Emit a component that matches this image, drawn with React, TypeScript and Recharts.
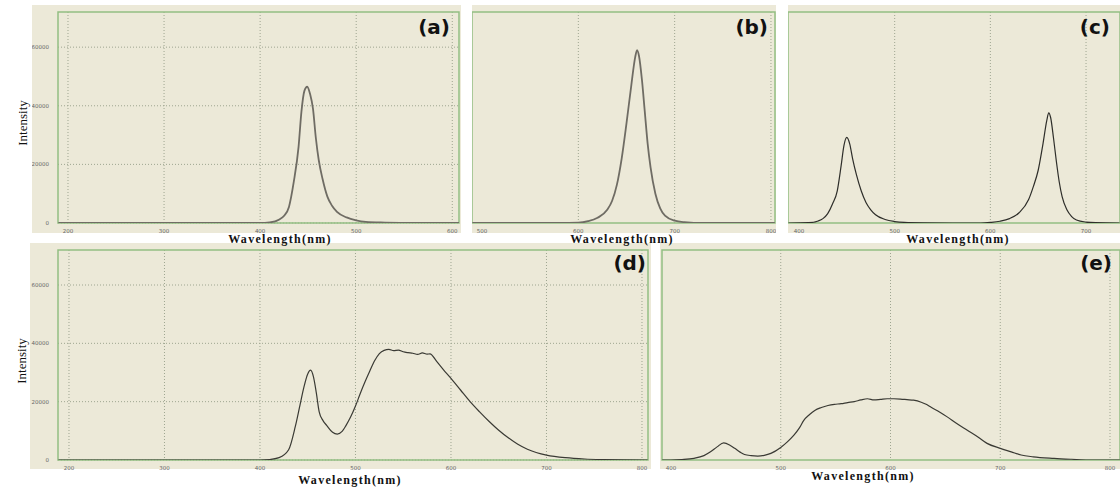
import React from "react";
import {
  LineChart,
  Line,
  XAxis,
  YAxis,
  CartesianGrid,
  ReferenceArea,
} from "recharts";

// Spectra (wavelength in nm, intensity in counts)
const aWavelength = [190, 300, 400, 410, 420, 425, 430, 435, 440, 443, 446, 449, 452, 455, 458, 461, 465, 470, 475, 480, 490, 500, 510, 530, 560, 607];
const aIntensity = [0, 0, 0, 200, 1200, 2500, 5500, 14000, 26000, 38000, 45000, 46500, 44000, 39000, 29000, 21500, 15000, 9000, 5800, 3800, 1900, 900, 400, 150, 0, 0];

const bWavelength = [490, 580, 600, 610, 620, 630, 635, 640, 645, 650, 655, 659, 661, 663, 666, 669, 672, 675, 680, 685, 690, 700, 710, 730, 804];
const bIntensity = [0, 0, 100, 600, 1800, 4500, 7500, 13000, 22000, 34000, 47000, 56500, 59000, 57000, 49000, 38000, 27000, 19000, 10000, 5000, 2500, 800, 300, 0, 0];

const cWavelength = [389, 410, 420, 425, 430, 435, 440, 444, 447, 450, 453, 456, 460, 465, 470, 475, 480, 490, 500, 510, 530, 560, 590, 600, 610, 620, 630, 640, 645, 650, 655, 659, 661, 663, 666, 669, 672, 675, 680, 685, 690, 700, 710, 735];
const cIntensity = [0, 100, 700, 1500, 3200, 6500, 11000, 19500, 26500, 29200, 27000, 22000, 16500, 11000, 7000, 4500, 2800, 1200, 500, 200, 50, 0, 0, 200, 600, 1500, 3500, 8000, 12500, 18000, 27000, 35000, 37600, 36000, 29000, 21000, 14000, 9000, 4500, 2200, 1000, 300, 100, 0];

const dWavelength = [189, 300, 400, 410, 420, 430, 437, 442, 446, 450, 453, 456, 459, 462, 466, 470, 476, 481, 486, 490, 495, 500, 505, 510, 515, 520, 525, 530, 535, 540, 545, 550, 555, 560, 565, 570, 575, 578, 585, 592, 600, 610, 620, 630, 640, 650, 660, 670, 680, 690, 700, 720, 740, 760, 780, 806];
const dIntensity = [0, 0, 0, 150, 800, 3500, 11500, 19000, 25000, 29500, 30800, 28500, 23000, 16500, 13500, 11800, 9500, 8900, 9800, 11800, 14800, 18500, 22800, 26800, 30500, 34000, 36500, 37600, 37900, 37500, 37700, 37100, 36800, 36600, 36200, 36700, 36300, 36400, 33800, 31000, 28000, 24000, 20000, 16500, 13200, 10200, 7600, 5400, 3700, 2500, 1700, 800, 350, 150, 50, 0];

const eWavelength = [392, 400, 410, 421, 430, 436, 442, 448, 454, 458, 463, 467, 473, 479, 485, 491, 500, 506, 512, 517, 521, 526, 531, 537, 543, 549, 555, 561, 567, 573, 579, 585, 591, 597, 603, 609, 615, 621, 628, 633, 637, 645, 652, 660, 670, 680, 688, 700, 710, 719, 730, 749, 765, 780, 809];
const eIntensity = [0, 0, 150, 570, 1500, 2800, 4500, 5900, 5000, 4000, 2700, 1900, 1500, 1360, 1600, 2270, 4300, 6200, 8500, 11000, 13600, 15500, 17000, 18000, 18700, 19100, 19300, 19700, 20000, 20600, 21000, 20600, 20800, 21000, 21000, 20900, 20700, 20500, 19800, 19000, 18100, 16400, 14700, 12600, 10200, 7800, 5700, 4000, 2800, 1700, 1100, 570, 250, 0, 0];

const yTicks = [0, 20000, 40000, 60000];
const Y_MAX = 72000;

const BG = "#ece9d8";
const FRAME = "#93bf83";
const GRID = "#9ea590";
const EXTRA = 6; // svg runs a little below the beige box so tick text isn't clipped

type PanelProps = {
  wl: number[];
  val: number[];
  left: number;
  top: number;
  width: number;
  height: number;
  marginTop: number;
  marginRight: number;
  marginLeft: number;
  yWidth: number;
  xHeight: number;
  domain: [number, number];
  ticks: number[];
  showY: boolean;
  stroke: string;
  strokeWidth: number;
  tag: string;
  tagRight: number;
  tagTop: number;
};

function Panel(p: PanelProps) {
  const data = p.wl.map((w, i) => ({ wl: w, v: p.val[i] }));
  const tickStyle = { fontSize: 5.5, fill: "#666", fontFamily: "DejaVu Sans" };
  return (
    <div style={{ position: "absolute", left: p.left, top: p.top, width: p.width, height: p.height, background: BG }}>
      <LineChart
        width={p.width}
        height={p.height + EXTRA}
        data={data}
        margin={{ top: p.marginTop, right: p.marginRight, left: p.marginLeft, bottom: 0 }}
      >
        <CartesianGrid
          stroke={GRID}
          strokeDasharray="1 2"
          verticalValues={p.ticks}
          horizontalValues={yTicks}
        />
        <XAxis
          dataKey="wl"
          type="number"
          domain={p.domain}
          ticks={p.ticks}
          allowDataOverflow
          height={p.xHeight + EXTRA}
          tickLine={false}
          axisLine={false}
          tickMargin={0}
          tick={tickStyle}
        />
        <YAxis
          type="number"
          domain={[0, Y_MAX]}
          ticks={yTicks}
          allowDataOverflow
          width={p.yWidth}
          tickLine={false}
          axisLine={false}
          tickMargin={3}
          tick={p.showY ? tickStyle : false}
        />
        <ReferenceArea
          x1={p.domain[0]}
          x2={p.domain[1]}
          y1={0}
          y2={Y_MAX}
          fill="none"
          stroke={FRAME}
          strokeWidth={1.5}
          ifOverflow="visible"
        />
        <Line
          type="monotone"
          dataKey="v"
          stroke={p.stroke}
          strokeWidth={p.strokeWidth}
          dot={false}
          isAnimationActive={false}
        />
      </LineChart>
      <div
        style={{
          position: "absolute",
          right: p.tagRight,
          top: p.tagTop,
          fontFamily: "DejaVu Sans",
          fontWeight: 700,
          fontSize: 20,
          lineHeight: "20px",
          color: "#111",
        }}
      >
        {p.tag}
      </div>
    </div>
  );
}

function XLabel({ x, y }: { x: number; y: number }) {
  return (
    <div
      style={{
        position: "absolute",
        left: x - 80,
        top: y,
        width: 160,
        textAlign: "center",
        fontFamily: "Liberation Serif",
        fontWeight: 700,
        fontSize: 12,
        letterSpacing: 1.3,
        lineHeight: "12px",
        color: "#111",
      }}
    >
      Wavelength(nm)
    </div>
  );
}

function YLabel({ x, y }: { x: number; y: number }) {
  return (
    <div
      style={{
        position: "absolute",
        left: x - 40,
        top: y - 8,
        width: 80,
        textAlign: "center",
        fontFamily: "Liberation Serif",
        fontSize: 13,
        lineHeight: "16px",
        color: "#111",
        transform: "rotate(-90deg)",
      }}
    >
      Intensity
    </div>
  );
}

export default function App() {
  return (
    <div style={{ position: "absolute", left: 0, top: 0, width: 1120, height: 487, background: "#fff", overflow: "hidden" }}>
      <Panel
        wl={aWavelength} val={aIntensity}
        left={32} top={5} width={429} height={228}
        marginTop={7} marginRight={2} marginLeft={0} yWidth={26} xHeight={10}
        domain={[189.6, 607]} ticks={[200, 300, 400, 500, 600]} showY
        stroke="#6f6c64" strokeWidth={1.8}
        tag="(a)" tagRight={11} tagTop={12}
      />
      <Panel
        wl={bWavelength} val={bIntensity}
        left={472} top={5} width={304} height={228}
        marginTop={7} marginRight={1} marginLeft={0} yWidth={0} xHeight={10}
        domain={[489.6, 804.2]} ticks={[500, 600, 700, 800]} showY={false}
        stroke="#6f6c64" strokeWidth={1.8}
        tag="(b)" tagRight={8} tagTop={12}
      />
      <Panel
        wl={cWavelength} val={cIntensity}
        left={788} top={5} width={332} height={228}
        marginTop={7} marginRight={0} marginLeft={0} yWidth={0} xHeight={10}
        domain={[388.5, 735.5]} ticks={[400, 500, 600, 700]} showY={false}
        stroke="#2e2e2a" strokeWidth={1.2}
        tag="(c)" tagRight={10} tagTop={12}
      />
      <Panel
        wl={dWavelength} val={dIntensity}
        left={30} top={243} width={621} height={226}
        marginTop={7} marginRight={3} marginLeft={0} yWidth={28} xHeight={9}
        domain={[188.5, 806.3]} ticks={[200, 300, 400, 500, 600, 700, 800]} showY
        stroke="#3a3a34" strokeWidth={1.2}
        tag="(d)" tagRight={5} tagTop={10}
      />
      <Panel
        wl={eWavelength} val={eIntensity}
        left={660} top={243} width={460} height={226}
        marginTop={7} marginRight={0} marginLeft={2} yWidth={0} xHeight={9}
        domain={[391.8, 809.1]} ticks={[400, 500, 600, 700, 800]} showY={false}
        stroke="#3a3a34" strokeWidth={1.2}
        tag="(e)" tagRight={8} tagTop={10}
      />
      <YLabel x={23} y={123} />
      <YLabel x={22} y={361} />
      <XLabel x={280} y={233} />
      <XLabel x={622} y={233} />
      <XLabel x={958} y={233} />
      <XLabel x={350} y={474} />
      <XLabel x={863} y={470} />
    </div>
  );
}
